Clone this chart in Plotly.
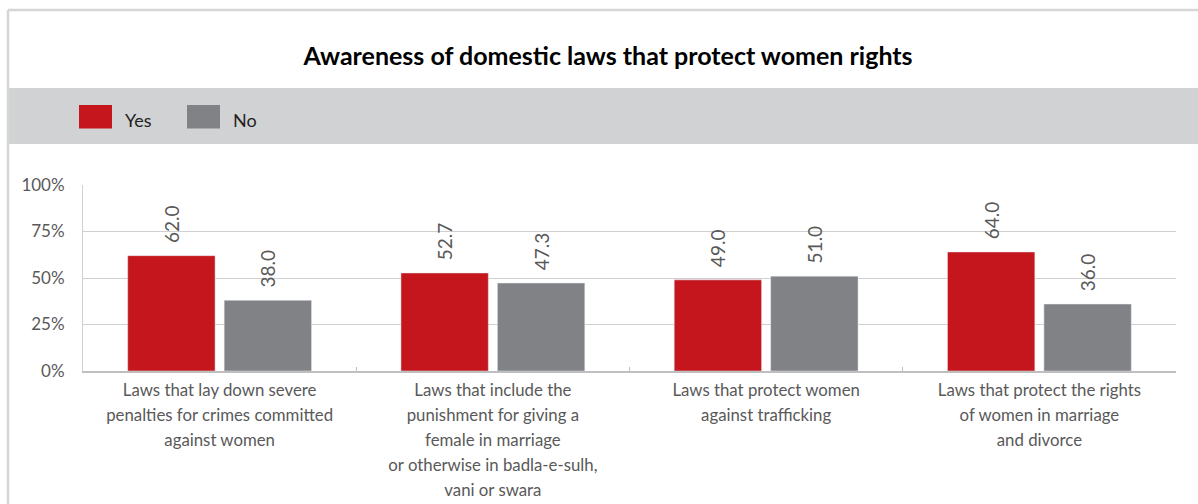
import plotly.graph_objects as go

categories = [
    "Laws that lay down severe<br>penalties for crimes committed<br>against women",
    "Laws that include the<br>punishment for giving a<br>female in marriage<br>or otherwise in badla-e-sulh,<br>vani or swara",
    "Laws that protect women<br>against trafficking",
    "Laws that protect the rights<br>of women in marriage<br>and divorce",
]
yes_values = [62.0, 52.7, 49.0, 64.0]
no_values = [38.0, 47.3, 51.0, 36.0]
y_tickvals = [0, 25, 50, 75, 100]
y_ticktext = ["0%", "25%", "50%", "75%", "100%"]
title_text = "Awareness of domestic laws that protect women rights"
series_names = ["Yes", "No"]

RED = "#C4161C"
GRAY = "#808285"
TXT = "#595959"
FONT = "Lato"

W, H = 1198, 504
L, R, T, B = 83, 22, 185, 133
PW = W - L - R
PH = H - T - B


def px(x):
    return (x - L) / PW


def py(y):
    return (H - B - y) / PH


ticklabels = ['<span style="font-size:16.8px">' + c.replace("<br>", '</span><br><span style="font-size:16.8px">') + "</span>" for c in categories]

fig = go.Figure()
fig.add_trace(go.Bar(
    x=categories, y=yes_values, name=series_names[0], marker_color=RED,
    texttemplate="\u00a0\u00a0%{y:.1f}", textposition="outside", textangle=-90,
    textfont=dict(family=FONT, size=19, color=TXT), cliponaxis=False,
))
fig.add_trace(go.Bar(
    x=categories, y=no_values, name=series_names[1], marker_color=GRAY,
    texttemplate="\u00a0\u00a0%{y:.1f}", textposition="outside", textangle=-90,
    textfont=dict(family=FONT, size=19, color=TXT), cliponaxis=False,
))

shapes = [
    # outer frame (top and left)
    dict(type="line", xref="paper", yref="paper", x0=px(8), x1=px(1210), y0=py(10), y1=py(10),
         line=dict(color="#D6D6D6", width=2.5)),
    dict(type="line", xref="paper", yref="paper", x0=px(8), x1=px(8), y0=py(10), y1=py(520),
         line=dict(color="#D6D6D6", width=2.5)),
    # legend band
    dict(type="rect", xref="paper", yref="paper", x0=px(9), x1=px(1210), y0=py(144), y1=py(88),
         fillcolor="#D1D2D4", line=dict(width=0), layer="below"),
    # legend swatches
    dict(type="rect", xref="paper", yref="paper", x0=px(79), x1=px(112), y0=py(128.5), y1=py(105),
         fillcolor=RED, line=dict(width=0)),
    dict(type="rect", xref="paper", yref="paper", x0=px(187), x1=px(220), y0=py(128.5), y1=py(105),
         fillcolor=GRAY, line=dict(width=0)),
]

annotations = [
    dict(text=series_names[0], xref="paper", yref="paper", x=px(123), y=py(120), xanchor="left",
         yanchor="middle", showarrow=False, font=dict(family=FONT, size=18, color="#231F20")),
    dict(text=series_names[1], xref="paper", yref="paper", x=px(231), y=py(120), xanchor="left",
         yanchor="middle", showarrow=False, font=dict(family=FONT, size=18, color="#231F20")),
]

fig.update_layout(
    width=W, height=H,
    margin=dict(l=L, r=R, t=T, b=B, autoexpand=False),
    paper_bgcolor="white", plot_bgcolor="white",
    showlegend=False,
    barmode="group", bargap=0.294, bargroupgap=0.094,
    title=dict(text="<b>" + title_text + "</b>", x=608 / W, xanchor="center", xref="container",
               y=1 - 56 / H, yanchor="middle", font=dict(family=FONT, size=25, color="#000000")),
    shapes=shapes, annotations=annotations,
    font=dict(family=FONT, color=TXT),
)
fig.update_xaxes(
    tickvals=categories, ticktext=ticklabels,
    tickfont=dict(family=FONT, size=19.2, color=TXT),
    showline=True, linecolor="#BFBFBF", linewidth=2,
    ticks="inside", ticklen=4, tickcolor="#BFBFBF", tickson="boundaries",
    showgrid=False, automargin=False,
)
fig.update_yaxes(
    range=[0, 100], tickvals=y_tickvals, ticktext=y_ticktext,
    tickfont=dict(family=FONT, size=17, color=TXT),
    showgrid=True, gridcolor="#D0D0D0", gridwidth=1,
    showline=True, linecolor="#D0D0D0", linewidth=1,
    zeroline=False, ticklabelstandoff=14, automargin=False,
)

fig.write_html("out.html")
